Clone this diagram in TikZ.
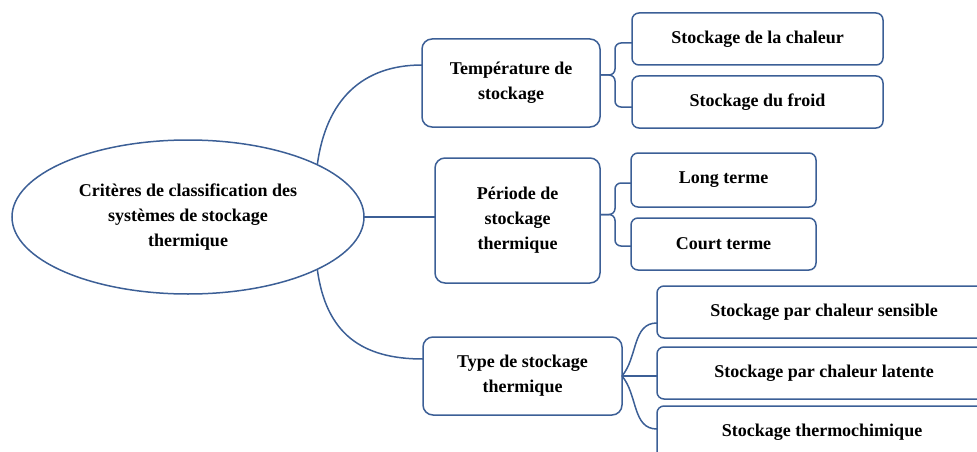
\documentclass[tikz,border=0pt]{standalone}
\usepackage{fontspec}
\setmainfont{Liberation Serif}
\usepackage{xcolor}
\usepackage{tikz}
\usetikzlibrary{positioning,shapes.geometric}

\definecolor{lineblue}{RGB}{60,95,150}

\begin{document}
\begin{tikzpicture}[
  x=1pt,y=-1pt,
  font=\fontsize{18}{25}\selectfont\bfseries,
  every node/.style={inner sep=0pt,outer sep=0pt},
  crit/.style={draw=lineblue,line width=1.5pt,ellipse,minimum width=352pt,minimum height=154pt,align=center},
  cat/.style={draw=lineblue,line width=1.5pt,rounded corners=10pt,align=center},
  leaf/.style={draw=lineblue,line width=1.5pt,rounded corners=7pt,align=center,minimum height=52pt},
  link/.style={draw=lineblue,line width=1.5pt},
  brace/.style={link,rounded corners=6pt}]
  \clip (0,0) rectangle (977,452);
  \node[crit] (crit) at (188,217) {Critères de classification des\\systèmes de stockage\\thermique};
  % categories
  \node[cat,minimum width=178pt,minimum height=88pt] (temp) at (511,83) {Température de\\stockage};
  \node[cat,minimum width=165pt,minimum height=125pt] (per) at (517.5,220.5) {Période de\\stockage\\thermique};
  \node[cat,minimum width=199pt,minimum height=78pt] (type) at (522.5,376) {Type de stockage\\thermique};
  % leaves
  \node[leaf,minimum width=251pt] (chal) at (757.5,39) {Stockage de la chaleur};
  \node[leaf,minimum width=251pt,below=11pt of chal] (froid) {Stockage du froid};
  \node[leaf,minimum width=185pt,minimum height=54pt] (long) at (723.5,180) {Long terme};
  \node[leaf,minimum width=185pt,below=11pt of long] (court) {Court terme};
  \node[leaf,minimum width=334pt] (sens) at (824,312) {Stockage par chaleur sensible};
  \node[leaf,minimum width=334pt,below=9pt of sens] (lat) {Stockage par chaleur latente};
  \node[leaf,minimum width=330pt,below=7pt of lat,xshift=-2pt] (chim) {Stockage thermochimique};
  % connectors
  \draw[link] (crit.22) .. controls (326,100) and (362,65) .. ([yshift=18pt]temp.west);
  \draw[link] (crit.east) -- (crit.east -| per.west);
  \draw[link] (crit.-22) .. controls (326,334) and (362,359) .. ([yshift=17pt]type.west);
  \draw[brace] ([yshift=8pt]temp.east) -- ++(15,0) |- ([yshift=-4pt]chal.west);
  \draw[brace] ([yshift=8pt]temp.east) -- ++(15,0) |- ([yshift=-5pt]froid.west);
  \draw[brace] ([yshift=6pt]per.east) -- ++(15,0) |- ([yshift=-3pt]long.west);
  \draw[brace] ([yshift=6pt]per.east) -- ++(15,0) |- ([yshift=-2pt]court.west);
  \draw[link] (type.east) to[out=50,in=180] ([yshift=-11pt]sens.west);
  \draw[link] (type.east) -- (type.east -| lat.west);
  \draw[link] (type.east) to[out=-50,in=180] ([yshift=3pt]chim.west);
\end{tikzpicture}
\end{document}
